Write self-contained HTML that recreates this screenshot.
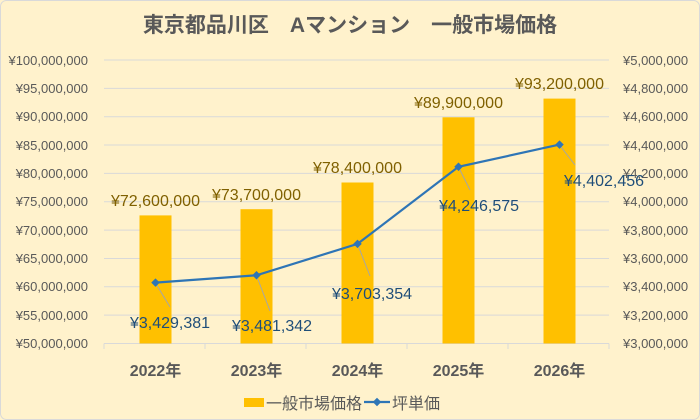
<!DOCTYPE html>
<html><head><meta charset="utf-8"><style>
html,body{margin:0;padding:0;background:#FFF2CC;}
svg{display:block;}
text{font-family:"Liberation Sans","Noto Sans CJK JP",sans-serif;}
</style></head><body>
<svg width="700" height="420" viewBox="0 0 700 420" xmlns="http://www.w3.org/2000/svg">
<rect x="0.5" y="0.5" width="699" height="419" rx="6" fill="#FFF2CC" stroke="#D9D9D9"/>
<text x="350" y="32" text-anchor="middle" font-size="21" font-weight="bold" fill="#595959">東京都品川区　Aマンション　一般市場価格</text>
<g stroke="#D9D9D9" stroke-width="1">
<line x1="104" x2="609" y1="60" y2="60"/><line x1="104" x2="609" y1="88.35" y2="88.35"/><line x1="104" x2="609" y1="116.7" y2="116.7"/><line x1="104" x2="609" y1="145.05" y2="145.05"/><line x1="104" x2="609" y1="173.4" y2="173.4"/><line x1="104" x2="609" y1="201.75" y2="201.75"/><line x1="104" x2="609" y1="230.1" y2="230.1"/><line x1="104" x2="609" y1="258.45" y2="258.45"/><line x1="104" x2="609" y1="286.8" y2="286.8"/><line x1="104" x2="609" y1="315.15" y2="315.15"/><line x1="104" x2="609" y1="343.5" y2="343.5"/>
<line x1="104" x2="104" y1="343.5" y2="349"/><line x1="205" x2="205" y1="343.5" y2="349"/><line x1="306" x2="306" y1="343.5" y2="349"/><line x1="407" x2="407" y1="343.5" y2="349"/><line x1="508" x2="508" y1="343.5" y2="349"/><line x1="609" x2="609" y1="343.5" y2="349"/>
</g>
<g font-size="13" fill="#595959" text-anchor="end">
<text x="88" y="65">¥100,000,000</text><text x="88" y="93">¥95,000,000</text><text x="88" y="121">¥90,000,000</text><text x="88" y="150">¥85,000,000</text><text x="88" y="178">¥80,000,000</text><text x="88" y="206">¥75,000,000</text><text x="88" y="235">¥70,000,000</text><text x="88" y="263">¥65,000,000</text><text x="88" y="291">¥60,000,000</text><text x="88" y="320">¥55,000,000</text><text x="88" y="348">¥50,000,000</text>
</g>
<g font-size="13" fill="#595959" text-anchor="start">
<text x="623" y="65">¥5,000,000</text><text x="623" y="93">¥4,800,000</text><text x="623" y="121">¥4,600,000</text><text x="623" y="150">¥4,400,000</text><text x="623" y="178">¥4,200,000</text><text x="623" y="206">¥4,000,000</text><text x="623" y="235">¥3,800,000</text><text x="623" y="263">¥3,600,000</text><text x="623" y="291">¥3,400,000</text><text x="623" y="320">¥3,200,000</text><text x="623" y="348">¥3,000,000</text>
</g>
<g fill="#FFC000">
<rect x="139.5" y="215.4" width="32" height="128.1"/>
<rect x="240.5" y="209.2" width="32" height="134.3"/>
<rect x="341.5" y="182.5" width="32" height="161"/>
<rect x="442.5" y="117.3" width="32" height="226.2"/>
<rect x="543.5" y="98.6" width="32" height="244.9"/>
</g>
<g font-size="16" fill="#7F6000" text-anchor="middle">
<text x="155.5" y="206">¥72,600,000</text><text x="256.5" y="200">¥73,700,000</text><text x="357.5" y="173">¥78,400,000</text><text x="458.5" y="108">¥89,900,000</text><text x="559.5" y="89">¥93,200,000</text>
</g>
<g stroke="#A6A6A6" stroke-width="1">
<line x1="155.5" y1="283" x2="170" y2="307"/><line x1="256.5" y1="275.5" x2="270" y2="311"/><line x1="357.5" y1="244" x2="370" y2="276"/><line x1="458.5" y1="167" x2="470" y2="190"/><line x1="559.5" y1="145" x2="575" y2="165"/>
</g>
<polyline points="155.5,282.6 256.5,275.3 357.5,243.9 458.5,166.8 559.5,144.6" fill="none" stroke="#2E75B6" stroke-width="2.2"/>
<g fill="#2E75B6">
<rect x="152.5" y="279.6" width="6" height="6" transform="rotate(45 155.5 282.6)"/>
<rect x="253.5" y="272.3" width="6" height="6" transform="rotate(45 256.5 275.3)"/>
<rect x="354.5" y="240.9" width="6" height="6" transform="rotate(45 357.5 243.9)"/>
<rect x="455.5" y="163.8" width="6" height="6" transform="rotate(45 458.5 166.8)"/>
<rect x="556.5" y="141.6" width="6" height="6" transform="rotate(45 559.5 144.6)"/>
</g>
<g font-size="16" fill="#1F4E79" text-anchor="middle">
<text x="170" y="328">¥3,429,381</text><text x="272" y="331">¥3,481,342</text><text x="372" y="299">¥3,703,354</text><text x="479" y="211">¥4,246,575</text><text x="604" y="186">¥4,402,456</text>
</g>
<g font-size="16" fill="#595959" text-anchor="middle" font-weight="bold">
<text x="155.5" y="376">2022年</text><text x="256.5" y="376">2023年</text><text x="357.5" y="376">2024年</text><text x="458.5" y="376">2025年</text><text x="559.5" y="376">2026年</text>
</g>
<rect x="244" y="398" width="20" height="9" fill="#FFC000"/>
<text x="266" y="409" font-size="16" fill="#595959">一般市場価格</text>
<line x1="364" y1="402" x2="390" y2="402" stroke="#2E75B6" stroke-width="2.2"/>
<rect x="374" y="399" width="6" height="6" fill="#2E75B6" transform="rotate(45 377 402)"/>
<text x="392" y="409" font-size="16" fill="#595959">坪単価</text>
</svg>
</body></html>
